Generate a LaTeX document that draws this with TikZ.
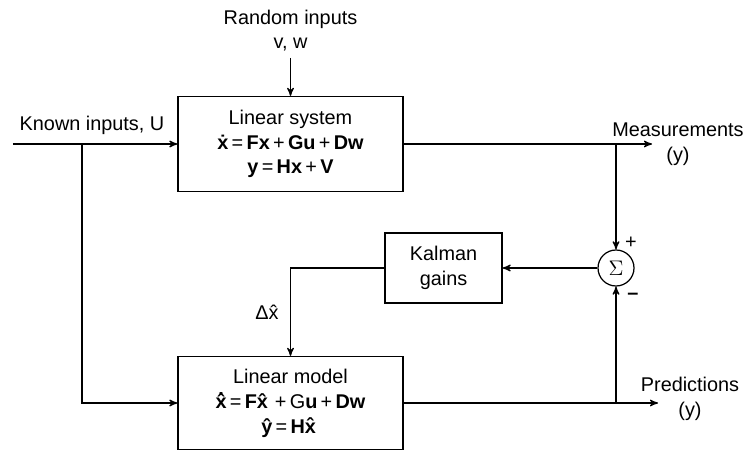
\documentclass[tikz,border=0pt]{standalone}
\usepackage{fontspec}
\setmainfont{Liberation Sans}
\usetikzlibrary{arrows}

\newcommand{\bx}[1]{\textbf{#1}}
% x with hat and a dot over the hat
\newcommand{\dhx}{\bx{\ooalign{\^x\cr\hfil\raisebox{0.66em}{.}\hfil\cr}}}

\begin{document}
\begin{tikzpicture}[>=stealth',line width=0.7pt,
    font=\fontsize{11.3}{14}\selectfont,
    blk/.style={draw,rectangle,align=center,inner sep=0pt},
    sum/.style={draw,circle,minimum size=0.72cm,inner sep=0pt}]
  \useasboundingbox (0,0) rectangle (14.9,-9.1);
  \node[blk,minimum width=4.5cm,minimum height=1.9cm] (sys) at (5.81,-2.88)
    {Linear system\\ \bx{\.x}\,=\,\bx{Fx}\,+\,\bx{Gu}\,+\,\bx{Dw}\\ \bx{y}\,=\,\bx{Hx}\,+\,\bx{V}};
  \node[blk,minimum width=4.5cm,minimum height=1.86cm] (mod) at (5.81,-8.06)
    {Linear model\\[0.5pt] \dhx\,=\,\bx{F\^x}\,+\,G\bx{u}\,+\,\bx{Dw}\\ \bx{\^y}\,=\,\bx{H\^x}};
  \node[blk,minimum width=2.34cm,minimum height=1.4cm] (kal) at (8.87,-5.36) {Kalman\\gains};
  \node[sum] (sig) at (12.32,-5.36) {\large$\Sigma$};
  \coordinate (in) at (0.26,-2.88);
  \coordinate (rnd) at (5.81,-1.16);
  \coordinate (meas) at (13.04,-2.88);
  \coordinate (pred) at (13.16,-8.06);
  \coordinate (ub) at (1.64,-2.88);
  \coordinate (mb) at (12.32,-2.88);
  \coordinate (pb) at (12.32,-8.06);
  % signal lines
  \draw[->] (in) -- (sys.west);
  \draw[->] (ub) |- (mod.west);
  \draw[->] (rnd) -- (sys.north);
  \draw[->] (sys.east) -- (meas);
  \draw[->] (mod.east) -- (pred);
  \draw[->] (mb) -- (sig.north);
  \draw[->] (pb) -- (sig.south);
  \draw[->] (sig.west) -- (kal.east);
  \draw[->] (kal.west) -| (mod.north);
  % labels
  \node[align=center] at (5.81,-0.61) {Random inputs\\v, w};
  \node at (1.84,-2.5) {Known inputs, U};
  \node[align=center] at (13.56,-2.89) {Measurements\\(y)};
  \node[align=center] at (13.8,-7.98) {Predictions\\(y)};
  \node at (5.34,-6.24) {Δ\^x};
  \node at (12.62,-4.86) {+};
  \node at (12.66,-5.92) {\bfseries --};
\end{tikzpicture}
\end{document}
